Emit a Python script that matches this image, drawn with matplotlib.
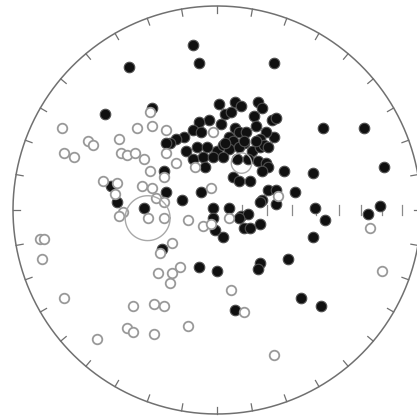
# Filename: plot.py
# Equal-area stereonet: filled and open poles with two confidence circles

import numpy as np
import matplotlib.pyplot as plt

# Filled poles, net coordinates (east, north), unit primitive circle
filled_x = [-0.12, -0.09, -0.43, 0.28, -0.55, -0.32, 0.52, 0.72, 0.82, 0.33,
            0.47, 0.01, 0.09, 0.12, 0.20, 0.22, 0.04, 0.07, 0.18, 0.19,
            0.27, 0.29, 0.28, 0.24, 0.21, -0.04, -0.09, 0.02, 0.09, 0.11,
            0.14, 0.06, 0.08, 0.13, -0.12, -0.08, -0.16, -0.20, -0.23, -0.15,
            -0.10, -0.05, 0.00, 0.03, 0.06, 0.11, 0.17, 0.21, 0.23, 0.25,
            -0.12, -0.07, -0.02, 0.03, 0.10, 0.15, 0.20, 0.24, 0.25, -0.06,
            0.22, 0.08, 0.11, 0.16, -0.25, -0.17, -0.08, 0.22, 0.25, 0.29,
            0.38, 0.29, 0.21, -0.02, 0.06, 0.12, 0.15, 0.48, 0.80, 0.53,
            0.74, -0.02, 0.11, 0.13, 0.16, 0.21, 0.03, -0.01, 0.47, 0.35,
            0.21, 0.20, 0.00, 0.41, 0.51, 0.09, -0.52, -0.49, -0.36, -0.09,
            -0.27, -0.26, -0.25, 0.19, 0.13, 0.04]
filled_y = [0.81, 0.72, 0.70, 0.72, 0.47, 0.50, 0.40, 0.40, 0.21, 0.19,
            0.18, 0.52, 0.53, 0.51, 0.53, 0.50, 0.47, 0.48, 0.46, 0.41,
            0.44, 0.45, 0.36, 0.38, 0.35, 0.44, 0.43, 0.42, 0.40, 0.38,
            0.38, 0.36, 0.34, 0.33, 0.39, 0.38, 0.36, 0.35, 0.33, 0.29,
            0.31, 0.31, 0.29, 0.32, 0.30, 0.31, 0.29, 0.31, 0.32, 0.31,
            0.25, 0.26, 0.26, 0.26, 0.25, 0.25, 0.24, 0.23, 0.21, 0.21,
            0.19, 0.16, 0.14, 0.14, 0.09, 0.05, 0.09, 0.05, 0.10, 0.10,
            0.09, 0.03, 0.04, 0.01, 0.01, -0.03, -0.02, 0.01, 0.02, -0.05,
            -0.02, -0.04, -0.04, -0.09, -0.09, -0.07, -0.13, -0.10, -0.13, -0.24,
            -0.26, -0.29, -0.30, -0.43, -0.47, -0.49, 0.12, 0.04, 0.01, -0.28,
            -0.19, 0.19, 0.33, 0.34, 0.34, 0.33]

# Open poles
open_x = [-0.76, -0.63, -0.61, -0.75, -0.70, -0.48, -0.39, -0.32, -0.25, -0.33,
          -0.47, -0.44, -0.40, -0.36, -0.25, -0.33, -0.26, -0.11, -0.20, -0.56,
          -0.49, -0.50, -0.37, -0.32, -0.30, -0.26, -0.46, -0.48, -0.34, -0.26,
          -0.14, -0.07, -0.03, -0.28, -0.22, -0.29, -0.18, -0.22, -0.23, -0.87,
          -0.85, -0.86, -0.75, -0.59, -0.44, -0.41, -0.31, -0.41, -0.31, -0.26,
          -0.14, -0.02, -0.03, 0.30, 0.06, 0.75, 0.81, 0.07, 0.13, 0.28]
open_y = [0.40, 0.34, 0.32, 0.28, 0.26, 0.35, 0.40, 0.41, 0.39, 0.48,
          0.28, 0.27, 0.28, 0.25, 0.28, 0.19, 0.16, 0.21, 0.23, 0.14,
          0.13, 0.08, 0.12, 0.11, 0.06, 0.04, -0.01, -0.03, -0.04, -0.04,
          -0.05, -0.08, -0.07, -0.21, -0.16, -0.31, -0.28, -0.31, -0.36, -0.14,
          -0.14, -0.24, -0.43, -0.63, -0.58, -0.60, -0.61, -0.47, -0.46, -0.47,
          -0.57, 0.38, 0.11, 0.07, -0.04, -0.09, -0.30, -0.39, -0.50, -0.71]

# Mean directions and their confidence circles (centre x, centre y, radius)
cone_x = [-0.34, 0.12]
cone_y = [-0.04, 0.23]
cone_r = [0.11, 0.05]

# Dip scale along the east radius, degrees
scale_dips = [10, 20, 30, 40, 50, 60, 70, 80]

fig = plt.figure(figsize=(4.17, 4.16), dpi=100)
ax = fig.add_axes([0, 0, 1, 1])
ax.set_xlim(-217 / 204, 200 / 204)
ax.set_ylim(-206 / 204, 210 / 204)
ax.axis('off')

# Primitive circle
t = np.linspace(0, 2 * np.pi, 721)
ax.plot(np.cos(t), np.sin(t), color='#707070', lw=1.1, zorder=1)

# Inward ticks every 10 degrees round the primitive
for az in np.radians(np.arange(0, 360, 10)):
    ax.plot([np.sin(az), 0.965 * np.sin(az)], [np.cos(az), 0.965 * np.cos(az)],
            color='#707070', lw=0.9, zorder=1)

# Equal-area dip ticks on the east radius
for d in scale_dips:
    r = np.sqrt(2) * np.sin(np.radians(d) / 2)
    ax.plot([r, r], [-0.025, 0.025], color='#8a8a8a', lw=0.9, zorder=1)

# Filled poles first, open poles drawn over them
ax.plot(filled_x, filled_y, 'o', ms=7.6, mfc='#101010', mec='#505050',
        mew=0.8, ls='none', zorder=3)
ax.plot(open_x, open_y, 'o', ms=6.9, mfc='white', mec='#999999',
        mew=1.3, ls='none', zorder=4)

# Confidence circles
for cx, cy, cr in zip(cone_x, cone_y, cone_r):
    ax.plot(cx + cr * np.cos(t), cy + cr * np.sin(t), color='#a8a8a8',
            lw=1.0, zorder=5)

fig.savefig('out.png', dpi=100, facecolor='white')
